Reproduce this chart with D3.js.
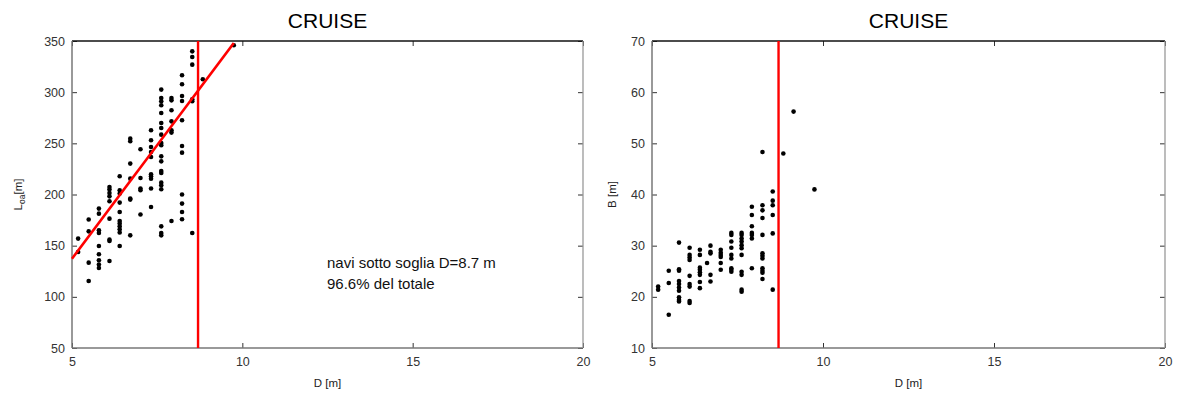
<!DOCTYPE html>
<html>
<head>
<meta charset="utf-8">
<script src="https://cdn.jsdelivr.net/npm/d3@7"></script>
<style>
  body { margin: 0; background: #fff; }
  svg { font-family: "Liberation Sans", Arial, sans-serif; }
</style>
</head>
<body>
<div id="chart"></div>
<script>
// data (D in metres, grouped by draught column)
const loaPoints = [
  [5.18, 156.9], [5.18, 143.8],
  [5.49, 175.5], [5.49, 164.0], [5.49, 133.4], [5.49, 115.5],
  [5.79, 186.2], [5.79, 181.3], [5.79, 165.0], [5.79, 162.4], [5.79, 149.7], [5.79, 141.6], [5.79, 135.7], [5.79, 131.5], [5.79, 128.2],
  [6.10, 207.3], [6.10, 204.8], [6.10, 201.5], [6.10, 198.2], [6.10, 193.4], [6.10, 176.4], [6.10, 155.9], [6.10, 154.5], [6.10, 135.0],
  [6.40, 217.8], [6.40, 204.1], [6.40, 200.9], [6.40, 192.1], [6.40, 182.9], [6.40, 174.1], [6.40, 171.6], [6.40, 168.9], [6.40, 166.0], [6.40, 162.8], [6.40, 149.7],
  [6.71, 254.6], [6.71, 252.0], [6.71, 230.2], [6.71, 215.5], [6.71, 196.0], [6.71, 195.0], [6.71, 160.1],
  [7.01, 244.2], [7.01, 216.1], [7.01, 205.8], [7.01, 204.1], [7.01, 180.4],
  [7.32, 262.8], [7.32, 253.0], [7.32, 246.4], [7.32, 241.5], [7.32, 236.6], [7.32, 219.7], [7.32, 217.8], [7.32, 215.5], [7.32, 205.8], [7.32, 187.8],
  [7.62, 302.5], [7.62, 294.3], [7.62, 291.1], [7.62, 287.2], [7.62, 279.6], [7.62, 269.9], [7.62, 265.0], [7.62, 258.5], [7.62, 250.3], [7.62, 248.1],
  [7.62, 237.3], [7.62, 232.4], [7.62, 223.0], [7.62, 221.0], [7.62, 211.6], [7.62, 209.0], [7.62, 205.1], [7.62, 168.9], [7.62, 162.4], [7.62, 160.1],
  [7.92, 294.3], [7.92, 292.0], [7.92, 282.3], [7.92, 271.5], [7.92, 262.8], [7.92, 260.5], [7.92, 174.1],
  [8.23, 316.5], [8.23, 307.7], [8.23, 296.3], [8.23, 291.4], [8.23, 272.5], [8.23, 247.4], [8.23, 240.9], [8.23, 200.0], [8.23, 191.1], [8.23, 182.9], [8.23, 175.8],
  [8.53, 339.9], [8.53, 334.4], [8.53, 326.9], [8.53, 293.0], [8.53, 291.1], [8.53, 162.4],
  [8.84, 312.6],
  [9.75, 345.8]
];

const beamPoints = [
  [5.18, 22.0], [5.18, 21.4],
  [5.49, 25.1], [5.49, 22.7], [5.49, 16.5],
  [5.79, 30.6], [5.79, 25.4], [5.79, 25.1], [5.79, 23.1], [5.79, 22.5], [5.79, 21.8], [5.79, 21.2], [5.79, 19.9], [5.79, 19.4], [5.79, 19.1],
  [6.10, 29.6], [6.10, 28.2], [6.10, 27.7], [6.10, 27.2], [6.10, 24.1], [6.10, 22.5], [6.10, 22.0], [6.10, 19.2], [6.10, 18.8],
  [6.40, 29.2], [6.40, 28.2], [6.40, 25.7], [6.40, 25.3], [6.40, 24.8], [6.40, 24.3], [6.40, 22.9], [6.40, 21.7],
  [6.61, 26.6],
  [6.71, 30.0], [6.71, 28.8], [6.71, 28.5], [6.71, 24.3], [6.71, 23.0],
  [7.01, 29.2], [7.01, 28.6], [7.01, 28.2], [7.01, 27.8], [7.01, 26.6], [7.01, 25.3],
  [7.32, 32.5], [7.32, 32.1], [7.32, 30.8], [7.32, 29.6], [7.32, 28.2], [7.32, 27.5], [7.32, 25.6], [7.32, 25.3], [7.32, 24.9],
  [7.62, 32.5], [7.62, 32.1], [7.62, 31.4], [7.62, 30.8], [7.62, 30.1], [7.62, 29.5], [7.62, 28.2], [7.62, 24.9], [7.62, 24.3], [7.62, 21.4], [7.62, 21.0],
  [7.92, 37.6], [7.92, 36.0], [7.92, 33.8], [7.92, 32.5], [7.92, 32.1], [7.92, 31.4], [7.92, 25.6],
  [8.23, 48.3], [8.23, 37.9], [8.23, 36.9], [8.23, 35.4], [8.23, 32.1], [8.23, 28.5], [8.23, 28.0], [8.23, 27.5], [8.23, 25.6], [8.23, 25.1], [8.23, 24.7], [8.23, 23.5],
  [8.53, 40.6], [8.53, 38.8], [8.53, 37.9], [8.53, 36.0], [8.53, 32.4], [8.53, 21.4],
  [8.84, 48.0],
  [9.14, 56.2],
  [9.75, 41.0]
];

const fitLine = [[5, 137.3], [9.75, 348]];
const thresholdD = 8.7;

const xTicks = [5, 10, 15, 20];
const loaTicks = [50, 100, 150, 200, 250, 300, 350];
const beamTicks = [10, 20, 30, 40, 50, 60, 70];

const titles = ['CRUISE', 'CRUISE'];
const noteLines = ['navi sotto soglia D=8.7 m', '96.6% del totale'];

const W = 1184, H = 399;
const svg = d3.select('#chart').append('svg')
  .attr('width', W)
  .attr('height', H);

function panel(opts) {
  const x = d3.scaleLinear().domain([5, 20]).range([opts.left, opts.right]);
  const y = d3.scaleLinear().domain(opts.yDomain).range([opts.bottom, opts.top]);
  const g = svg.append('g');
  const tick = 5;

  // ticks, inward, on all four sides
  const bottomAxis = g.append('g')
    .attr('transform', `translate(0,${opts.bottom})`)
    .call(d3.axisBottom(x).tickValues(xTicks).tickSize(-tick).tickPadding(9).tickFormat(d3.format('d')));
  const topAxis = g.append('g')
    .attr('transform', `translate(0,${opts.top})`)
    .call(d3.axisTop(x).tickValues(xTicks).tickSize(-tick).tickFormat(''));
  const leftAxis = g.append('g')
    .attr('transform', `translate(${opts.left},0)`)
    .call(d3.axisLeft(y).tickValues(opts.yTicks).tickSize(-tick).tickPadding(7).tickFormat(d3.format('d')));
  const rightAxis = g.append('g')
    .attr('transform', `translate(${opts.right},0)`)
    .call(d3.axisRight(y).tickValues(opts.yTicks).tickSize(-tick).tickFormat(''));

  [bottomAxis, topAxis, leftAxis, rightAxis].forEach(a => {
    a.select('.domain').remove();
    a.selectAll('line').attr('stroke', '#333');
    a.selectAll('text')
      .attr('fill', '#333')
      .style('font-size', '12.5px')
      .style('font-family', '"Liberation Sans", Arial, sans-serif');
  });

  // frame
  g.append('line').attr('x1', opts.left).attr('x2', opts.right).attr('y1', opts.top).attr('y2', opts.top)
    .attr('stroke', '#111').attr('stroke-width', 1.3);
  g.append('line').attr('x1', opts.left).attr('x2', opts.right).attr('y1', opts.bottom).attr('y2', opts.bottom)
    .attr('stroke', '#777').attr('stroke-width', 1.5);
  g.append('line').attr('x1', opts.left).attr('x2', opts.left).attr('y1', opts.top).attr('y2', opts.bottom)
    .attr('stroke', '#777').attr('stroke-width', 1.5);
  g.append('line').attr('x1', opts.right).attr('x2', opts.right).attr('y1', opts.top).attr('y2', opts.bottom)
    .attr('stroke', '#999').attr('stroke-width', 1.3);

  // points
  g.append('g').selectAll('circle')
    .data(opts.points)
    .enter().append('circle')
    .attr('cx', d => x(d[0]))
    .attr('cy', d => y(d[1]))
    .attr('r', 2.3)
    .attr('fill', '#000');

  // fitted line
  if (opts.fit) {
    g.append('path')
      .datum(opts.fit)
      .attr('d', d3.line().x(d => x(d[0])).y(d => y(d[1])))
      .attr('stroke', '#ff0000')
      .attr('stroke-width', 2.6)
      .attr('fill', 'none');
  }

  // threshold line
  g.append('line')
    .attr('x1', x(thresholdD)).attr('x2', x(thresholdD))
    .attr('y1', opts.top).attr('y2', opts.bottom)
    .attr('stroke', '#ff0000')
    .attr('stroke-width', 2.4);

  const cx = (opts.left + opts.right) / 2;
  g.append('text')
    .attr('x', cx).attr('y', 28)
    .attr('text-anchor', 'middle')
    .style('font-size', '21px')
    .attr('fill', '#000')
    .text(opts.title);

  g.append('text')
    .attr('x', cx).attr('y', 387)
    .attr('text-anchor', 'middle')
    .style('font-size', '11.5px')
    .attr('fill', '#222')
    .text('D [m]');

  const yl = g.append('text')
    .attr('transform', `translate(${opts.yLabelX},${(opts.top + opts.bottom) / 2}) rotate(-90)`)
    .attr('text-anchor', 'middle')
    .style('font-size', '11.5px')
    .attr('fill', '#222');
  opts.yLabel(yl);

  return { x, y, g };
}

const left = panel({
  left: 72, right: 583, top: 41, bottom: 348,
  yDomain: [50, 350], yTicks: loaTicks,
  points: loaPoints, fit: fitLine, title: titles[0], yLabelX: 22,
  yLabel: t => {
    t.append('tspan').text('L');
    t.append('tspan').attr('dy', 3).style('font-size', '8.5px').text('oa');
    t.append('tspan').attr('dy', -3).text('[m]');
  }
});

const right = panel({
  left: 652, right: 1165, top: 41, bottom: 348,
  yDomain: [10, 70], yTicks: beamTicks,
  points: beamPoints, fit: null, title: titles[1], yLabelX: 616,
  yLabel: t => t.text('B [m]')
});

// annotation in the left panel
left.g.append('text')
  .attr('x', 327).attr('y', 268)
  .style('font-size', '15px')
  .attr('fill', '#111')
  .selectAll('tspan')
  .data(noteLines)
  .enter().append('tspan')
  .attr('x', 327)
  .attr('dy', (d, i) => i === 0 ? 0 : 21)
  .text(d => d);
</script>
</body>
</html>
